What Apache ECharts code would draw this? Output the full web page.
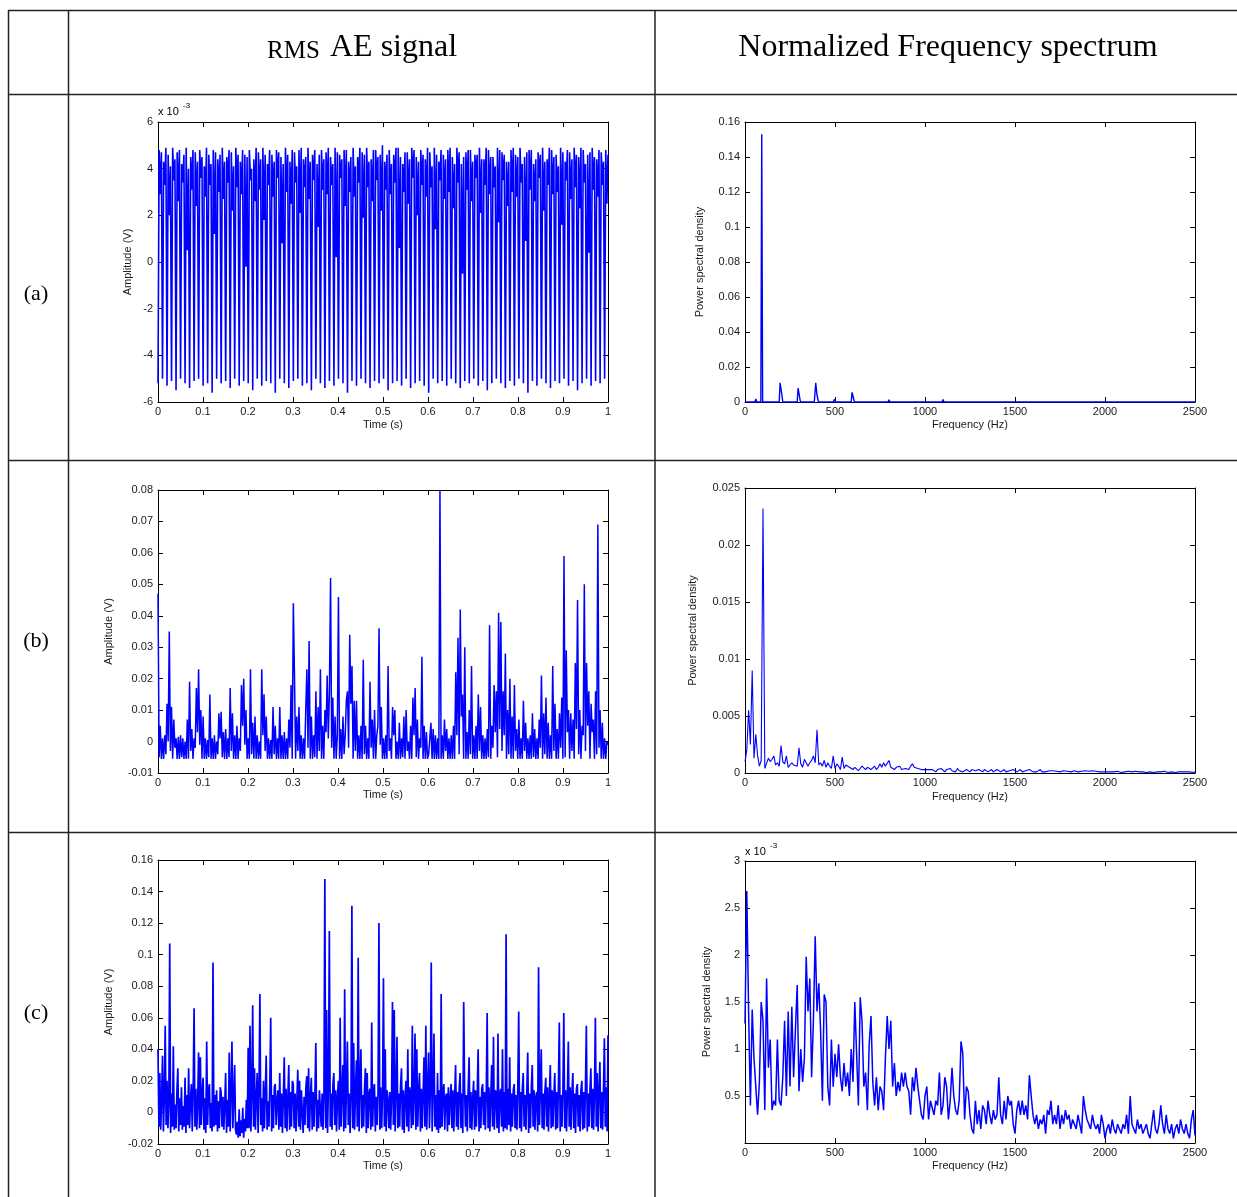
<!DOCTYPE html>
<html>
<head>
<meta charset="utf-8">
<script src="https://cdn.jsdelivr.net/npm/echarts/dist/echarts.min.js"></script>
<style>
html,body{margin:0;padding:0;background:#fff;}
#chart{width:1237px;height:1197px;}
</style>
</head>
<body>
<div id="chart"></div>
<script>
// ---------------- DATA ----------------
// Column / row headers
const colHeaders = ["RMS", "AE signal", "Normalized Frequency spectrum"];
const rowLabels = ["(a)", "(b)", "(c)"];
const timeTicks = [0, 0.1, 0.2, 0.3, 0.4, 0.5, 0.6, 0.7, 0.8, 0.9, 1];
const freqTicks = [0, 500, 1000, 1500, 2000, 2500];

// (a) RMS AE signal, amplitude in units of 1e-3 V, sampled evenly over 0..1 s
const ampA = [
-5.2,4.8,2.9,4.7,-5.0,4.3,3.3,4.9,-5.3,4.6,2.0,4.1,-5.1,4.9,3.5,4.4,-5.5,4.7,2.6,4.8,-5.0,4.2,3.4,4.6,-5.2,4.9,0.5,4.0,-5.4,4.5,3.1,4.8,-5.1,4.7,2.4,4.3,-5.0,4.8,3.6,4.5,
-5.3,4.1,2.8,4.9,-5.2,4.6,3.3,4.2,-5.6,4.8,1.2,4.7,-5.0,4.4,3.0,4.6,-5.2,4.9,2.7,4.3,-5.1,4.5,3.4,4.8,-5.4,4.7,2.2,4.1,-5.0,4.9,3.2,4.6,-5.3,4.3,2.9,4.8,-5.1,4.6,-0.2,4.5,
-5.2,4.8,3.5,4.0,-5.5,4.4,2.6,4.9,-5.0,4.7,3.1,4.4,-5.3,4.9,1.8,4.6,-5.1,4.2,3.3,4.8,-5.2,4.6,2.8,4.3,-5.6,4.8,3.6,4.7,-5.0,4.5,0.8,4.2,-5.2,4.9,3.0,4.6,-5.4,4.3,2.5,4.8,
-5.1,4.7,3.4,4.1,-5.0,4.8,2.1,4.9,-5.3,4.4,3.2,4.5,-5.2,4.9,2.7,4.3,-5.5,4.6,3.5,4.8,-5.0,4.2,1.5,4.6,-5.2,4.8,3.1,4.4,-5.4,4.7,2.9,4.9,-5.1,4.5,3.3,4.2,-5.3,4.9,0.2,4.7,
-5.0,4.6,3.6,4.4,-5.2,4.8,2.4,4.8,-5.6,4.3,3.0,4.5,-5.1,4.9,2.8,4.1,-5.3,4.5,3.4,4.9,-5.0,4.7,1.9,4.6,-5.2,4.9,3.2,4.3,-5.4,4.4,2.6,4.8,-5.1,4.8,3.5,4.5,-5.2,4.6,2.2,5.0,
-5.0,4.3,3.1,4.6,-5.5,4.8,2.9,4.2,-5.2,4.6,3.4,4.9,-5.1,4.9,0.6,4.5,-5.3,4.2,3.0,4.7,-5.0,4.7,2.5,4.4,-5.4,4.9,3.6,4.8,-5.2,4.5,2.0,4.3,-5.1,4.8,3.3,4.6,-5.3,4.4,2.8,4.9,
-5.6,4.7,3.2,4.1,-5.0,4.9,1.4,4.6,-5.2,4.3,3.5,4.8,-5.1,4.6,2.7,4.4,-5.3,4.8,3.0,4.9,-5.0,4.5,2.3,4.2,-5.2,4.9,3.4,4.7,-5.4,4.2,-0.5,4.5,-5.1,4.7,3.1,4.8,-5.2,4.8,2.6,4.3,
-5.0,4.6,3.6,4.6,-5.3,4.9,2.1,4.4,-5.1,4.4,3.3,4.9,-5.5,4.8,2.9,4.5,-5.2,4.5,3.2,4.1,-5.0,4.9,1.7,4.8,-5.2,4.7,3.5,4.6,-5.4,4.3,2.4,4.3,-5.1,4.8,3.0,4.9,-5.3,4.6,2.8,4.5,
-5.0,4.9,3.4,4.2,-5.2,4.5,0.9,4.7,-5.6,4.8,3.1,4.8,-5.1,4.2,2.6,4.4,-5.3,4.7,3.6,4.6,-5.0,4.9,2.2,4.3,-5.2,4.4,3.3,4.9,-5.4,4.8,2.9,4.5,-5.1,4.6,3.0,4.1,-5.2,4.9,1.6,4.7,
-5.0,4.3,3.5,4.8,-5.3,4.7,2.7,4.4,-5.1,4.9,3.2,4.6,-5.5,4.5,2.3,4.9,-5.2,4.8,3.4,4.2,-5.0,4.6,0.4,4.7,-5.3,4.9,3.1,4.5,-5.1,4.4,2.8,4.8,-5.2,4.7,3.3,4.3,-5.0,4.8,2.5,4.6
];

// (a) spectrum: frequency (Hz) / PSD (units of 1e-3)
const freqA = [0,25,30,35,55,60,65,88,93,98,150,155,160,190,195,200,205,210,290,295,303,308,385,393,400,408,490,497,503,590,595,603,608,795,800,805,895,900,905,1095,1100,1105,1295,1300,1305,2500];
const psdA  = [0,0,0.5,0,0,1.8,0,0,153,0,0,0.7,0,0,11,11,4,0,0,8,7.8,0,0,11,4,0,0,1.5,0,0,5.5,5,0,0,1.2,0,0,1,0,0,1.5,0,0,0.5,0,0];

// (b) RMS AE signal, amplitude in mV, sampled evenly over 0..1 s
const ampB = [
47,-5,5,-5.5,1,-5.5,2,-4,12,0,35,-3,11,-5.5,7,-2,1,-5.5,1.5,-5.5,2,-5,1,-5.5,0,-5.5,7,-5.5,19,-3,4,-5.5,1,-2,17,3,23,-1,10,-5.5,
8,-5.5,1,-5.5,0.5,-5,15,-5.5,1,-5.5,2,-5.5,0,-4,9,1,9.5,-5,3,-5.5,4,-5.5,1,-5,17,-3,9,-5.5,2,-5.5,5,-5.5,1,-3,18,5,20,-1,10,-5.5,
1,-5.5,23,-4,6,-5.5,8,-5.5,2,-5.5,0,-5.5,23,2,15,-3,8,-5.5,1,-5.5,0.5,-5.5,11,-4,5,-5.5,1,-5.5,11,-5.5,2,-5.5,3,-5.5,1,-5.5,7,-2,18,-5.5,
44,21,-5.5,8,-3,11,-5.5,2,-5.5,1,-5.5,10,23,-2,32,-5.5,8,-5.5,2,-5,16,-5.5,11,-3,23,-5.5,5,-5.5,10,3,21,1,16,52,-2,14,-5.5,8,-5.5,2,
46,-5.5,4,-5.5,8,-4,2,13,16,-2,34,12,24,-5.5,13,-3,13,-5.5,2,-5.5,5,-5.5,26,-4,5,-5.5,1,-5.5,19,-2,7,-5.5,10,-5.5,2,5,36,-1,11,-5.5,
1,-5.5,2,-5.5,24,-3,1,-5.5,11,2,10,-5.5,0,-5.5,6,-5.5,1,-5,8,-5.5,10,-3,0,-5.5,5,-5.5,14,2,17,-5,7,-5.5,1,-2,27,-5.5,5,-5.5,3,-5.5,
-4,1,6,-5.5,4,-5.5,2,-5.5,1,-5.5,80,-5.5,2,-5.5,7,-3,4,-5.5,1,-5.5,2,-5.5,5,-5.5,22,2,33,-4,42,8,15,-5.5,30,-5.5,3,-5.5,10,-4,24,-5.5,
2,-5.5,5,-5.5,15,-3,11,-5.5,2,-5.5,1,-5.5,4,-5,37,-5.5,5,-2,18,3,16,-5,41,4,38,-3,16,2,28,-5.5,10,-4,20,-5.5,8,-5.5,18,-3,4,-5.5,
7,-5.5,1,-5.5,13,-3,6,-5.5,1,-5.5,2,-5.5,9,-5,4,-5.5,1,-5.5,7,-2,21,-5.5,9,-4,14,-5.5,6,-5.5,2,-5.5,24,-3,12,-5.5,4,-5.5,9,-2,14,-5.5,
59,-5,29,3,10,-5.5,9,-3,7,-5.5,25,4,45,-4,10,-5.5,5,2,50,-3,25,5,16,-5.5,12,3,7,-5.5,16,-4,69,-2,10,-5.5,6,-5.5,1,-5.5,0,-1
];

// (b) spectrum: PSD in units of 1e-3, every 10 Hz from 0 to 2500 Hz
const psdB = [
1.0,2.0,5.5,2.5,9.0,1.3,3.4,1.5,0.6,1.1,
23.2,0.4,0.5,1.3,1.0,1.2,1.5,0.7,0.9,0.6,
2.4,1.0,0.8,1.5,0.5,0.7,0.9,0.7,0.8,0.6,
2.2,0.8,0.5,1.2,1.1,0.6,0.9,1.1,1.5,0.9,
3.8,0.7,0.9,0.6,1.1,0.5,0.9,0.6,0.4,1.5,
0.4,0.8,0.6,0.3,1.4,0.4,0.7,0.6,0.5,0.6,
0.3,0.5,0.4,0.2,0.3,0.6,0.5,0.3,0.5,0.6,
0.3,0.4,0.6,0.3,0.5,0.8,0.5,0.9,0.6,0.7,
1.1,0.5,0.6,0.3,0.5,0.4,0.6,0.3,0.2,0.4,
0.5,0.3,0.6,0.8,0.5,0.6,0.4,0.5,0.3,0.4,
0.3,0.2,0.3,0.2,0.3,0.2,0.1,0.3,0.2,0.4,
0.3,0.1,0.3,0.2,0.4,0.2,0.3,0.1,0.4,0.2,
0.3,0.1,0.2,0.3,0.2,0.1,0.3,0.2,0.2,0.1,
0.3,
0.2,0.1,0.3,0.2,0.1,0.2,0.3,0.1,0.2,0.3,
0.2,0.1,0.2,0.3,0.1,0.2,0.2,0.1,0.3,0.2,
0.1,0.2,0.3,0.1,0.2,0.2,0.1,0.3,0.2,0.1,
0.2,0.1,0.2,0.3,0.1,0.2,0.1,0.2,0.2,0.1,
0.2,0.1,0.15,0.2,0.1,0.15,0.2,0.1,0.15,0.2,
0.1,0.15,0.2,0.1,0.1,0.2,0.15,0.1,0.2,0.1,
0.15,0.1,0.2,0.1,0.15,0.1,0.1,0.2,0.1,0.15,
0.1,0.15,0.1,0.2,0.1,0.1,0.15,0.1,0.05,0.15,
0.1,0.05,0.15,0.1,0.1,0.05,0.15,0.1,0.1,0.05,
0.1,0.15,0.05,0.1,0.1,0.2,0.05,0.1,0.1,0.05,
0.1,0.05,0.15,0.1,0.05,0.1,0.1,0.15,0.05,0.1,
0.1,0.05,0.1,0.15,0.1,0.05,0.1,0.1,0.05,0.1
];

// (c) RMS AE signal, amplitude in mV, sampled evenly over 0..1 s
const ampC = [
40,-9,25,-11,8,36,-12,10,55,-8,20,-10,6,107,-13,12,-9,42,-11,5,-10,14,28,-12,9,-8,16,-11,4,-9,22,-13,11,-8,28,-10,7,18,-12,13,66,-9,15,-11,6,38,-10,35,-8,12,
22,-11,9,-13,45,-8,14,18,-10,6,-12,95,-9,11,-8,14,-12,7,-10,16,13,-9,10,-11,5,25,-13,8,-9,38,-12,12,45,-10,9,30,-11,-14,-6,-16,2,-15,-5,-13,3,-16,-4,-12,8,-10,
41,-10,55,-12,12,68,-9,28,-11,10,25,-13,14,75,-8,9,-12,20,-10,13,36,-11,7,-9,18,60,-12,11,-10,16,18,-8,8,14,-11,25,-9,12,-13,10,35,-10,15,-12,9,30,-11,13,-9,20,
18,-10,12,-12,8,27,-9,20,-11,14,15,-13,10,-8,16,23,-10,28,-12,9,22,-11,13,-9,11,44,-12,8,-10,14,15,-9,12,-11,10,148,-10,65,-13,16,115,-9,12,-11,18,25,-8,14,-12,10,
20,-11,60,-9,13,30,-12,78,-10,16,45,-8,12,-13,9,131,-10,44,-11,14,33,-9,98,-12,18,40,-10,11,-9,15,28,-13,25,-10,12,15,-11,57,-9,14,18,-12,10,-8,13,120,-11,16,-10,12,
85,-9,40,-12,14,8,-10,13,-11,9,70,-8,65,-12,15,48,-10,12,-9,17,28,-11,14,-13,10,20,-9,40,-12,16,12,-10,55,-8,11,50,-11,40,-9,13,25,-12,15,-10,12,35,-9,55,-11,14,
38,-10,13,95,-12,15,50,-9,11,-11,25,-13,14,-10,75,-9,12,18,-11,10,12,-12,16,-8,9,18,-10,14,-12,11,30,-9,13,-11,15,25,-10,12,-13,70,14,-9,11,-12,16,35,-10,13,-11,9,
20,-11,14,-9,12,40,-12,10,-10,15,18,-8,13,-11,11,63,-10,16,-12,9,30,-9,48,-11,14,12,-10,50,-13,11,15,-9,40,-12,13,-10,113,-11,15,-8,35,-12,12,-9,14,18,-10,11,-11,16,
64,-10,13,-12,15,25,-9,11,-11,14,38,-13,12,-10,16,30,-9,14,-11,10,13,-12,92,-8,15,40,-10,12,-11,13,22,-9,16,-12,11,30,-10,14,-9,12,25,-11,13,-10,15,57,-12,11,-9,14,
63,-10,14,-12,12,45,-9,16,-11,13,25,-10,12,-13,15,18,-9,11,-12,14,20,-11,13,-10,16,55,-12,12,-9,14,28,-10,15,-11,13,60,-9,25,-12,14,32,-10,13,-11,15,47,-9,16,-12,49
];

// (c) spectrum: PSD in units of 1e-3, every 10 Hz from 0 to 2500 Hz
const psdC = [
1.27,2.68,1.4,0.4,1.42,0.9,0.6,0.3,0.65,1.5,
1.3,0.35,1.75,0.8,1.1,0.35,0.45,0.4,1.1,0.45,
0.4,0.7,1.3,0.5,1.4,0.6,1.45,0.7,1.2,1.68,
0.55,1.0,0.65,0.9,1.98,1.4,1.75,0.7,1.3,2.2,
1.4,1.7,1.2,0.45,1.58,1.5,0.6,0.4,1.1,0.6,
0.95,0.7,1.05,0.7,0.55,0.85,0.6,0.75,0.5,1.0,
0.65,1.5,0.95,0.4,1.55,1.3,0.6,0.75,0.35,1.05,
1.35,0.65,0.4,0.7,0.35,0.6,0.55,0.35,0.9,1.35,
1.0,1.3,0.6,0.85,0.5,0.65,0.55,0.75,0.6,0.75,
0.6,0.55,0.3,0.7,0.55,0.8,0.6,0.45,0.3,0.25,
0.5,0.6,0.25,0.45,0.45,0.3,0.45,0.4,0.75,0.3,
0.4,0.7,0.6,0.25,0.45,0.8,0.5,0.35,0.3,0.45,
1.08,0.95,0.25,0.6,0.55,0.3,0.15,0.1,0.45,0.2,
0.35,0.15,0.4,0.35,0.2,0.45,0.3,0.2,0.35,0.25,
0.3,0.7,0.3,0.2,0.45,0.25,0.5,0.4,0.45,0.2,
0.1,0.35,0.45,0.3,0.45,0.3,0.4,0.25,0.72,0.5,
0.3,0.2,0.3,0.15,0.25,0.2,0.3,0.1,0.35,0.3,
0.45,0.2,0.3,0.2,0.4,0.15,0.3,0.2,0.35,0.25,
0.3,0.15,0.25,0.2,0.15,0.3,0.2,0.1,0.5,0.35,
0.25,0.2,0.15,0.3,0.2,0.15,0.2,0.1,0.3,0.2,
0.05,0.15,0.2,0.1,0.25,0.15,0.1,0.2,0.15,0.1,
0.2,0.15,0.3,0.1,0.5,0.2,0.15,0.1,0.25,0.15,
0.2,0.1,0.15,0.2,0.1,0.05,0.2,0.35,0.15,0.1,
0.2,0.4,0.2,0.1,0.3,0.15,0.1,0.2,0.05,0.15,
0.2,0.1,0.25,0.15,0.1,0.2,0.1,0.05,0.25,0.35,
0.08
];
const FREQ_STEP = 10; // Hz between PSD samples

// ---------------- BUILD ----------------
const sans = '"Liberation Sans", Arial, Helvetica, sans-serif';
const serif = '"Liberation Serif", "Times New Roman", serif';
const BLUE = '#0000ff';

function timeSeries(vals) {
  const n = vals.length;
  return vals.map((v, i) => [i / (n - 1), v]);
}
function spectrum(vals) {
  return vals.map((v, i) => [i * FREQ_STEP, v]);
}
function pairs(xs, ys) {
  return xs.map((x, i) => [x, ys[i]]);
}

const option = {
  animation: false,
  backgroundColor: '#ffffff',
  grid: [], xAxis: [], yAxis: [], series: [], graphic: []
};

function addPanel(p) {
  const gi = option.grid.length;
  option.grid.push({ left: p.left, top: p.top, width: p.width, height: p.height, show: false });
  const line = { show: true, onZero: false, lineStyle: { color: '#000', width: 1 } };
  const tick = { show: true, inside: true, length: 5, lineStyle: { color: '#000', width: 1 } };
  const lab = { fontSize: 11, fontFamily: sans, color: '#1a1a1a' };
  option.xAxis.push({
    gridIndex: gi, type: 'value', position: 'bottom', min: p.xMin, max: p.xMax, interval: p.xInt,
    axisLine: line, axisTick: tick, splitLine: { show: false },
    axisLabel: Object.assign({ margin: 4, formatter: p.xFmt }, lab),
    name: p.xName, nameLocation: 'middle', nameGap: p.xGap,
    nameTextStyle: { fontSize: 11, fontFamily: sans, color: '#1a1a1a' }
  });
  option.xAxis.push({
    gridIndex: gi, type: 'value', position: 'top', min: p.xMin, max: p.xMax, interval: p.xInt,
    axisLine: line, axisTick: tick, splitLine: { show: false }, axisLabel: { show: false }
  });
  option.yAxis.push({
    gridIndex: gi, type: 'value', position: 'left', min: p.yMin, max: p.yMax, interval: p.yInt,
    axisLine: line, axisTick: tick, splitLine: { show: false },
    axisLabel: Object.assign({ margin: 5, formatter: p.yFmt, showMinLabel: !p.hideYMin }, lab),
    name: p.yName, nameLocation: 'middle', nameGap: p.yGap,
    nameTextStyle: { fontSize: 11, fontFamily: sans, color: '#1a1a1a' }
  });
  option.yAxis.push({
    gridIndex: gi, type: 'value', position: 'right', min: p.yMin, max: p.yMax, interval: p.yInt,
    axisLine: line, axisTick: tick, splitLine: { show: false }, axisLabel: { show: false }
  });
  option.series.push({
    type: 'line', xAxisIndex: 2 * gi, yAxisIndex: 2 * gi, data: p.data,
    showSymbol: false, symbol: 'none', silent: true, animation: false,
    lineStyle: { color: BLUE, width: p.lw || 1 }, itemStyle: { color: BLUE }
  });
}

const tFmt = v => String(Math.round(v * 10) / 10);
const fFmt = v => String(v);
const milli = v => String(Math.round(v) / 1000);

const L = 158, R = 745, W = 450;
// Row (a)
addPanel({ left: L, top: 122, width: W, height: 280, xMin: 0, xMax: 1, xInt: 0.1, xFmt: tFmt,
  yMin: -6, yMax: 6, yInt: 2, yFmt: v => String(v), yName: 'Amplitude (V)', yGap: 25,
  xName: 'Time (s)', xGap: 17, data: timeSeries(ampA), lw: 1.6 });
addPanel({ left: R, top: 122, width: W, height: 280, xMin: 0, xMax: 2500, xInt: 500, xFmt: fFmt,
  yMin: 0, yMax: 160, yInt: 20, yFmt: milli, yName: 'Power spectral density', yGap: 40,
  xName: 'Frequency (Hz)', xGap: 17, data: pairs(freqA, psdA), lw: 1.4 });
// Row (b)
addPanel({ left: L, top: 490, width: W, height: 283, xMin: 0, xMax: 1, xInt: 0.1, xFmt: tFmt,
  yMin: -10, yMax: 80, yInt: 10, yFmt: milli, yName: 'Amplitude (V)', yGap: 44,
  xName: 'Time (s)', xGap: 16, data: timeSeries(ampB), lw: 1.5 });
addPanel({ left: R, top: 488, width: W, height: 285, xMin: 0, xMax: 2500, xInt: 500, xFmt: fFmt,
  yMin: 0, yMax: 25, yInt: 5, yFmt: milli, yName: 'Power spectral density', yGap: 47,
  xName: 'Frequency (Hz)', xGap: 18, data: spectrum(psdB), lw: 1.1 });
// Row (c)
addPanel({ left: L, top: 860, width: W, height: 284, xMin: 0, xMax: 1, xInt: 0.1, xFmt: tFmt,
  yMin: -20, yMax: 160, yInt: 20, yFmt: milli, yName: 'Amplitude (V)', yGap: 44,
  xName: 'Time (s)', xGap: 16, data: timeSeries(ampC), lw: 1.7 });
addPanel({ left: R, top: 861, width: W, height: 282, xMin: 0, xMax: 2500, xInt: 500, xFmt: fFmt,
  yMin: 0, yMax: 3, yInt: 0.5, yFmt: v => String(v), hideYMin: true, yName: 'Power spectral density', yGap: 33,
  xName: 'Frequency (Hz)', xGap: 17, data: spectrum(psdC), lw: 1.5 });

// ---------------- TABLE + TEXT ----------------
const G = option.graphic;
const TL = { stroke: '#222', lineWidth: 1.5 };
function hline(y, x1, x2) { G.push({ type: 'line', shape: { x1: x1, y1: y, x2: x2, y2: y }, style: TL, silent: true }); }
function vline(x, y1, y2) { G.push({ type: 'line', shape: { x1: x, y1: y1, x2: x, y2: y2 }, style: TL, silent: true }); }
hline(10.5, 8, 1237);
hline(94.5, 8, 1237);
hline(460.5, 8, 1237);
hline(832.5, 8, 1237);
vline(8.5, 10, 1197);
vline(68.5, 10, 1197);
vline(655, 10, 1197);

function text(t, x, y, font, align, extra) {
  G.push(Object.assign({ type: 'text', x: x, y: y, silent: true,
    style: { text: t, font: font, fill: '#000', align: align || 'center', verticalAlign: 'middle' } }, extra || {}));
}
text(colHeaders[0], 267, 51, '25px ' + serif, 'left');
text(colHeaders[1], 330, 48, '32px ' + serif, 'left');
text(colHeaders[2], 948, 48, '32px ' + serif, 'center');
text(rowLabels[0], 36, 294, '22px ' + serif, 'center');
text(rowLabels[1], 36, 641, '22px ' + serif, 'center');
text(rowLabels[2], 36, 1013, '22px ' + serif, 'center');
// exponent labels
text('x 10', 158, 112, '11px ' + sans, 'left');
text('-3', 183, 106, '8px ' + sans, 'left');
text('x 10', 745, 852, '11px ' + sans, 'left');
text('-3', 770, 846, '8px ' + sans, 'left');

const chart = echarts.init(document.getElementById('chart'), null, { renderer: 'canvas', width: 1237, height: 1197 });
chart.setOption(option);
</script>
</body>
</html>
